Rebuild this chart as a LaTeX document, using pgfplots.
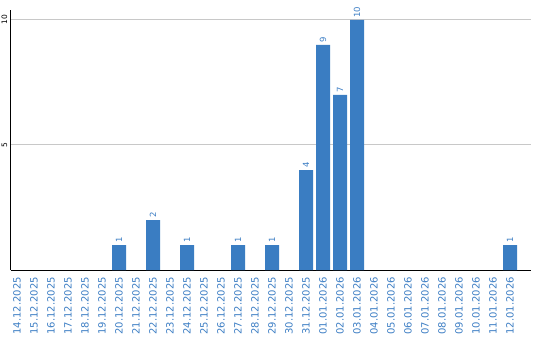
\documentclass[border=0pt]{standalone}
\usepackage{fontspec}
\setmainfont{DejaVu Sans}
\usepackage{pgfplots}
\pgfplotsset{compat=1.18}
\definecolor{barblue}{HTML}{3A7DC2}
\definecolor{txtblue}{HTML}{3D7EC4}
\definecolor{gridgray}{HTML}{C8C8C8}
\begin{document}
\begin{tikzpicture}
\useasboundingbox (-11pt,-70pt) rectangle (529pt,270pt);
\begin{axis}[
  at={(0,0)}, anchor=south west,
  scale only axis, width=520pt, height=260pt,
  xmin=-0.353, xmax=30.235, ymin=0, ymax=10.4,
  /pgf/number format/assume math mode=true,
  axis x line=bottom, axis y line=left,
  axis line style={-, black, line width=1pt},
  major tick length=0pt,
  xtick={0,...,29},
  xticklabels={14.12.2025,15.12.2025,16.12.2025,17.12.2025,18.12.2025,19.12.2025,20.12.2025,21.12.2025,22.12.2025,23.12.2025,24.12.2025,25.12.2025,26.12.2025,27.12.2025,28.12.2025,29.12.2025,30.12.2025,31.12.2025,01.01.2026,02.01.2026,03.01.2026,04.01.2026,05.01.2026,06.01.2026,07.01.2026,08.01.2026,09.01.2026,10.01.2026,11.01.2026,12.01.2026},
  x tick label style={rotate=90, anchor=east, inner sep=0pt, text=txtblue, font=\fontsize{10}{12}\selectfont},
  xticklabel shift=7pt,
  ytick={5,10},
  yticklabels={5,10},
  y tick label style={rotate=90, anchor=south, inner sep=0pt, font=\fontsize{7.5}{9}\selectfont},
  yticklabel shift=3.5pt,
  ymajorgrids, grid style={gridgray, line width=1pt},
  nodes near coords={\pgfmathprintnumber{\pgfplotspointmeta}},
  every node near coord/.style={rotate=90, anchor=west, inner sep=0pt, outer sep=2.5pt, text=txtblue, font=\fontsize{8.5}{10}\selectfont},
]
\addplot[ybar, bar width=14pt, fill=barblue, draw=none] coordinates {
  (6,1) (8,2) (10,1) (13,1) (15,1) (17,4) (18,9) (19,7) (20,10) (29,1)
};
\end{axis}
\end{tikzpicture}
\end{document}
